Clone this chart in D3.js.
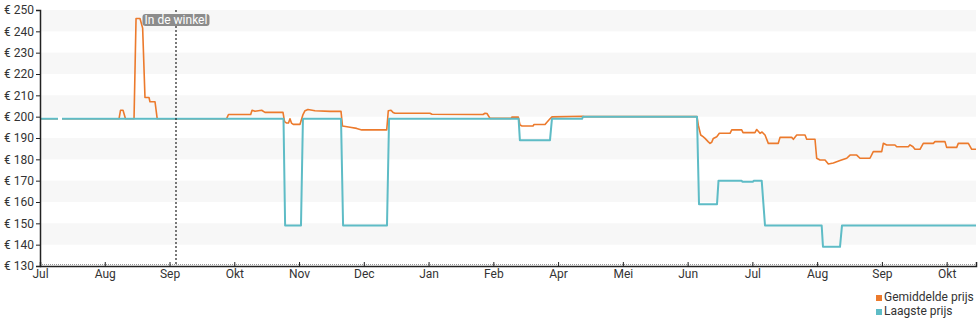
<!DOCTYPE html>
<html>
<head>
<meta charset="utf-8">
<script src="https://cdn.jsdelivr.net/npm/d3@7"></script>
<style>
  html, body { margin: 0; padding: 0; background: #fff; }
  svg { display: block; font-family: Roboto, "Noto Sans", sans-serif; }
</style>
</head>
<body>
<svg id="chart" width="980" height="325"></svg>
<script>
// Month labels under the evenly spaced x ticks (position = tick index)
const monthLabels = ["Jul", "Aug", "Sep", "Okt", "Nov", "Dec", "Jan", "Feb", "Apr", "Mei", "Jun", "Jul", "Aug", "Sep", "Okt"];

// Price axis ticks (euro)
const priceTicks = [130, 140, 150, 160, 170, 180, 190, 200, 210, 220, 230, 240, 250];

// Series: [position in tick units, price]; null price = no data
const averagePrice = [
  [0, 199], [0.278, 199], [0.30, null], [0.34, 199],
  [1.22, 199], [1.243, 203], [1.282, 203], [1.32, 199],
  [1.452, 199], [1.483, 246], [1.544, 246], [1.585, 241.5], [1.621, 209], [1.683, 209],
  [1.698, 207], [1.776, 207], [1.81, 199],
  [2.88, 199], [2.91, 201], [3.253, 201], [3.274, 203], [3.32, 202.5], [3.423, 203],
  [3.474, 202], [3.752, 202], [3.776, 197.7], [3.809, 197], [3.837, 197], [3.86, 199],
  [3.883, 197], [3.911, 196.4], [4.015, 196.4], [4.061, 201], [4.092, 202.8], [4.138, 203.4],
  [4.246, 202.8], [4.478, 202.5], [4.648, 202.5], [4.671, 195.6], [4.787, 195], [4.89, 194.5],
  [4.968, 193.8], [5.354, 193.8], [5.378, 202.8], [5.42, 203], [5.451, 202], [5.482, 201.6],
  [6.022, 201.6], [6.053, 201.1], [6.841, 201], [6.872, 201.6], [6.902, 201.5], [6.949, 199.2],
  [7.273, 199.2], [7.288, 199.8], [7.386, 199.8], [7.412, 196.1], [7.443, 195.6], [7.613, 195.6],
  [7.628, 196.3], [7.798, 196.3], [7.824, 197.3], [7.875, 199], [7.906, 199.9], [8.385, 200.2],
  [8.40, 200], [10.145, 200], [10.165, 196], [10.202, 191.4], [10.238, 190.6], [10.269, 189.8],
  [10.32, 188.2], [10.346, 187.5], [10.372, 188], [10.397, 189.8], [10.45, 190.6], [10.49, 192.2],
  [10.655, 192.2], [10.681, 193.8], [10.835, 193.8], [10.855, 192.5], [11.04, 192.5], [11.067, 194],
  [11.118, 192.2], [11.149, 192.8], [11.195, 191.4], [11.246, 187.5], [11.4, 187.5], [11.427, 190.3],
  [11.607, 190.3], [11.633, 189.4], [11.685, 191.4], [11.813, 191.4], [11.839, 189.4], [11.967, 189.4],
  [11.993, 180.5], [12.044, 179.7], [12.122, 179.7], [12.173, 177.8], [12.25, 178.3], [12.353, 179.4],
  [12.457, 180.5], [12.508, 182], [12.611, 182], [12.662, 180.5], [12.816, 180.5], [12.867, 183.6],
  [12.997, 183.6], [13.022, 187.5], [13.074, 186.7], [13.202, 186.7], [13.229, 185.9], [13.408, 185.9],
  [13.434, 186.8], [13.48, 185.9], [13.511, 184.7], [13.588, 184.7], [13.639, 187.5], [13.794, 187.5],
  [13.82, 188.3], [13.974, 188.3], [14.0, 185.6], [14.155, 185.6], [14.18, 187.5], [14.335, 187.5],
  [14.387, 184.7], [14.453, 184.7]
];

const lowestPrice = [
  [0, 199], [0.278, 199], [0.30, null], [0.34, 199],
  [3.76, 199], [3.785, 149], [4.03, 149], [4.06, 199],
  [4.648, 199], [4.68, 149], [5.358, 149], [5.39, 199],
  [7.39, 199], [7.41, 189], [7.875, 189], [7.905, 199],
  [8.37, 199], [8.385, 200], [10.145, 200], [10.176, 159],
  [10.454, 159], [10.477, 170], [10.835, 170], [10.845, 169.5],
  [11.01, 169.5], [11.02, 170], [11.144, 170], [11.195, 149],
  [12.07, 149], [12.09, 139], [12.353, 139], [12.384, 149], [14.453, 149]
];

// Marker for the date the product was in store
const storeMarker = { at: 2.1, label: "In de winkel" };

const seriesInfo = [
  { name: "Gemiddelde prijs", color: "#ec7a2c", width: 1.6, data: averagePrice },
  { name: "Laagste prijs", color: "#5ebcc6", width: 2, data: lowestPrice }
];

const svg = d3.select("#chart");
const xEnd = 14.453;

const x = d3.scaleLinear().domain([0, xEnd]).range([40, 976]);
const y = d3.scaleLinear().domain([130, 250]).range([266, 10]);

// Alternating horizontal bands
const bandStarts = [140, 160, 180, 200, 220, 240];
svg.append("g").selectAll("rect").data(bandStarts).join("rect")
  .attr("x", x(0)).attr("width", x(xEnd) - x(0))
  .attr("y", d => y(d + 10)).attr("height", d => y(d) - y(d + 10))
  .attr("fill", "#f7f7f7");

// Lines
const line = d3.line()
  .defined(d => d[1] !== null)
  .x(d => x(d[0])).y(d => y(d[1]));

svg.append("g").selectAll("path").data(seriesInfo).join("path")
  .attr("d", d => line(d.data))
  .attr("fill", "none")
  .attr("stroke", d => d.color)
  .attr("stroke-width", d => d.width)
  .attr("stroke-linejoin", "round");

// Store marker
svg.append("line")
  .attr("x1", x(storeMarker.at)).attr("x2", x(storeMarker.at))
  .attr("y1", y(250)).attr("y2", y(130))
  .attr("stroke", "#222").attr("stroke-width", 1.2)
  .attr("stroke-dasharray", "2,2");

const tag = svg.append("g");
tag.append("rect")
  .attr("x", x(storeMarker.at) - 33.5).attr("y", 14)
  .attr("width", 67).attr("height", 12).attr("rx", 3)
  .attr("fill", "#8c8c8c");
tag.append("text")
  .attr("x", x(storeMarker.at)).attr("y", 24)
  .attr("text-anchor", "middle")
  .attr("fill", "#fff").attr("font-size", 12)
  .text(storeMarker.label);

// Y axis
const yAxis = d3.axisLeft(y).tickValues(priceTicks).tickSize(4).tickPadding(2)
  .tickFormat(d => "€ " + d);
const gy = svg.append("g").attr("transform", "translate(40,0)").call(yAxis);
gy.select(".domain").attr("stroke", "#222").attr("stroke-width", 1.5);
gy.selectAll(".tick line").attr("stroke", "#222");
gy.selectAll("text").attr("font-size", 12).attr("fill", "#333")
  .attr("font-family", "Roboto, sans-serif");

// X axis: minor hatch just above the baseline
svg.append("line")
  .attr("x1", x(0)).attr("x2", x(xEnd))
  .attr("y1", y(130) - 1.5).attr("y2", y(130) - 1.5)
  .attr("stroke", "#999").attr("stroke-width", 1)
  .attr("stroke-dasharray", "1,1");

const xAxis = d3.axisBottom(x).tickValues(d3.range(monthLabels.length))
  .tickSize(-4).tickPadding(2)
  .tickFormat(i => monthLabels[i]);
const gx = svg.append("g").attr("transform", `translate(0,${y(130)})`).call(xAxis);
gx.select(".domain").attr("stroke", "#222").attr("stroke-width", 1.5);
gx.selectAll(".tick line").attr("stroke", "#222");
gx.selectAll("text").attr("font-size", 12).attr("fill", "#333")
  .attr("font-family", "Roboto, sans-serif")
  .attr("y", 3).attr("dy", "0.71em");

// Legend
const legend = svg.append("g").selectAll("g").data(seriesInfo).join("g")
  .attr("transform", (d, i) => `translate(876,${301 + i * 14})`);
legend.append("rect").attr("x", 0).attr("y", -6).attr("width", 6).attr("height", 6)
  .attr("fill", d => d.color);
legend.append("text").attr("x", 8).attr("y", 0)
  .attr("font-size", 12).attr("fill", "#333")
  .text(d => d.name);
</script>
</body>
</html>
